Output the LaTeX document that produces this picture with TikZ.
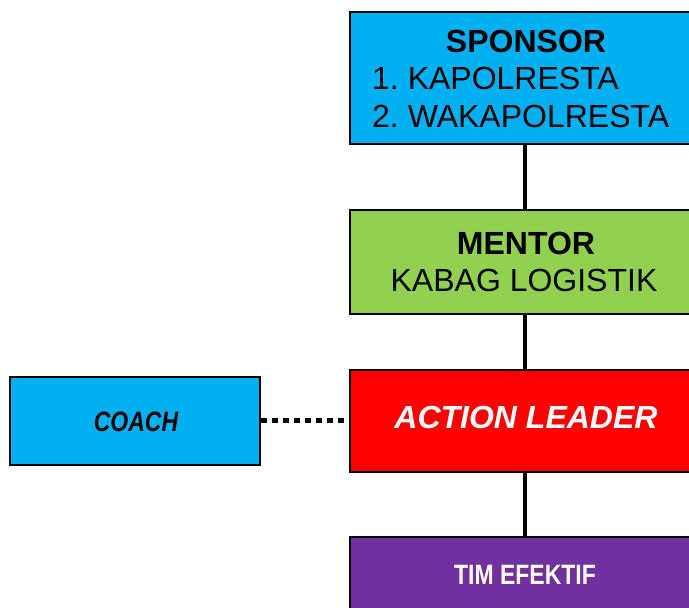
\documentclass[tikz,border=0pt]{standalone}
\usepackage{fontspec}
\setmainfont{Liberation Sans}
\newfontfamily\narrowfont[FakeStretch=0.82]{Liberation Sans}
\frenchspacing
\definecolor{cblue}{HTML}{00B0F0}
\definecolor{cgreen}{HTML}{92D050}
\definecolor{cred}{HTML}{FF0000}
\definecolor{cpurple}{HTML}{7030A0}
\tikzset{
  box/.style={draw=black, line width=2.5pt, rectangle, inner sep=0pt},
  big/.style={font=\fontsize{32}{38}\selectfont, inner sep=0pt, anchor=base},
  narrow/.style={font=\narrowfont\bfseries\fontsize{28}{34}\selectfont, inner sep=0pt, anchor=base},
  link/.style={line width=4pt},
  dotlink/.style={line width=5pt, dash pattern=on 5.5pt off 5.5pt}
}
\begin{document}
\begin{tikzpicture}[x=1pt,y=1pt]
\useasboundingbox (0,0) rectangle (689,608);
\clip (0,0) rectangle (689,608);
\node[box, fill=cblue, minimum width=350pt, minimum height=132pt] (sponsor) at (525,530) {};
\node[box, fill=cgreen, minimum width=350pt, minimum height=104pt] (mentor) at (525,346) {};
\node[box, fill=cred, minimum width=350pt, minimum height=102pt] (action) at (525,187) {};
\node[box, fill=cblue, minimum width=250pt, minimum height=88pt] (coach) at (135,187) {};
\node[box, fill=cpurple, minimum width=350pt, minimum height=92pt] (tim) at (525,25) {};
\draw[link] (sponsor.south) -- (mentor.north);
\draw[link] (mentor.south) -- (action.north);
\draw[link] (action.south) -- (tim.north);
\draw[dotlink] (coach.east) -- (action.west);
\node[big, font=\fontsize{32}{38}\selectfont\bfseries] (t1) at (526,555) {SPONSOR};
\node[big, anchor=base west] (t2) at (372,518) {1. KAPOLRESTA};
\node[big, anchor=base west] (t3) at (372,480) {2. WAKAPOLRESTA};
\node[big, font=\fontsize{32}{38}\selectfont\bfseries] (t4) at (526,353) {MENTOR};
\node[big] (t5) at (524,316) {KABAG LOGISTIK};
\node[big, text=white, font=\fontsize{32}{38}\selectfont\bfseries\itshape] (t6) at (526,179) {ACTION LEADER};
\node[narrow, font=\narrowfont\bfseries\itshape\fontsize{28}{34}\selectfont] (t7) at (136,176) {COACH};
\node[narrow, text=white] (t8) at (525,23) {TIM EFEKTIF};
\end{tikzpicture}
\end{document}
